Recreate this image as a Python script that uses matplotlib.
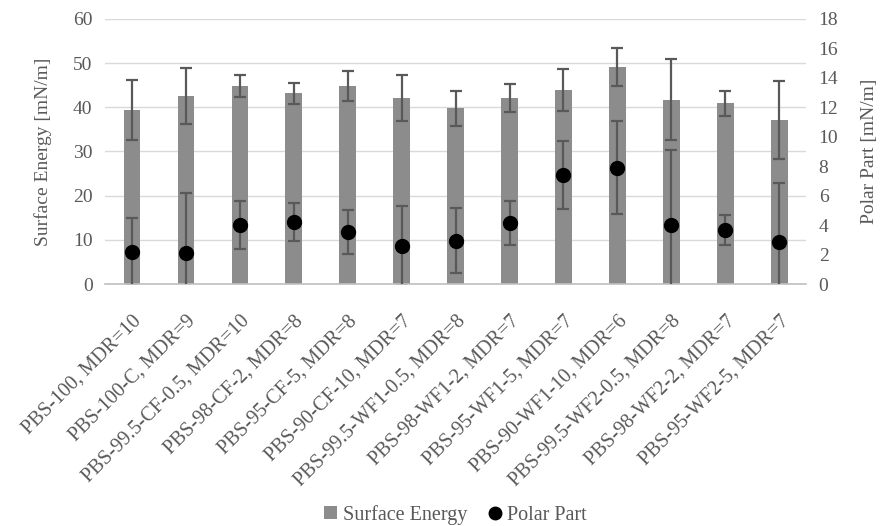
import matplotlib.pyplot as plt
import numpy as np

plt.rcParams["font.family"] = ["Liberation Serif", "DejaVu Serif"]

# Data
samples = ["PBS-100, MDR=10", "PBS-100-C, MDR=9", "PBS-99.5-CF-0.5, MDR=10",
           "PBS-98-CF-2, MDR=8", "PBS-95-CF-5, MDR=8", "PBS-90-CF-10, MDR=7",
           "PBS-99.5-WF1-0.5, MDR=8", "PBS-98-WF1-2, MDR=7", "PBS-95-WF1-5, MDR=7",
           "PBS-90-WF1-10, MDR=6", "PBS-99.5-WF2-0.5, MDR=8", "PBS-98-WF2-2, MDR=7",
           "PBS-95-WF2-5, MDR=7"]
surface_energy = [39.4, 42.6, 44.8, 43.2, 44.8, 42.1, 39.8, 42.1, 43.9, 49.1, 41.7, 40.9, 37.1]
surface_err = [6.8, 6.3, 2.4, 2.4, 3.4, 5.1, 4.0, 3.1, 4.7, 4.3, 9.2, 2.8, 8.8]
polar_part = [2.17, 2.08, 4.01, 4.21, 3.53, 2.58, 2.94, 4.12, 7.40, 7.90, 3.99, 3.67, 2.85]
polar_err = [2.3, 4.1, 1.6, 1.3, 1.5, 2.7, 2.2, 1.5, 2.3, 3.15, 5.1, 1.0, 4.0]

grey_text = "#595959"
err_col = "#595959"

fig, ax = plt.subplots(figsize=(8.83, 5.26), dpi=100)
fig.subplots_adjust(left=0.119, right=0.913, top=0.964, bottom=0.46)
x = np.arange(len(samples))

ax.bar(x, surface_energy, width=0.31, color="#8c8c8c", zorder=2, label="Surface Energy")
ax.errorbar(x, surface_energy, yerr=surface_err, fmt="none", ecolor=err_col,
            elinewidth=1.6, capsize=4, capthick=1.6, zorder=3)
ax.set_ylim(0, 60)
ax.set_yticks(range(0, 61, 10))
ax.set_xlim(-0.5, len(samples) - 0.5)
ax.grid(axis="y", color="#d9d9d9", linewidth=1, zorder=0)
ax.set_axisbelow(True)
ax.set_ylabel("Surface Energy [mN/m]", color=grey_text, fontsize=14, labelpad=15)

ax2 = ax.twinx()
ax2.errorbar(x, polar_part, yerr=polar_err, fmt="none", ecolor=err_col,
             elinewidth=1.6, capsize=4, capthick=1.6, zorder=3)
ax2.plot(x, polar_part, "o", color="black", markersize=10, zorder=4, label="Polar Part")
ax2.set_ylim(0, 18)
ax2.set_yticks(range(0, 19, 2))
ax2.set_ylabel("Polar Part [mN/m]", color=grey_text, fontsize=14, labelpad=16)

for a in (ax, ax2):
    for s in a.spines.values():
        s.set_visible(False)
    a.tick_params(axis="y", length=0, labelsize=14, labelcolor=grey_text, pad=9)
ax.spines["bottom"].set_visible(True)
ax.spines["bottom"].set_color("#bfbfbf")
ax.spines["bottom"].set_linewidth(1.2)

ax.set_xticks(x)
ax.set_xticklabels(samples, rotation=45, ha="right", rotation_mode="anchor",
                   fontsize=14.5, color=grey_text)
ax.tick_params(axis="x", length=0, pad=20)

h1, l1 = ax.get_legend_handles_labels()
h2, l2 = ax2.get_legend_handles_labels()
fig.legend(h1 + h2, l1 + l2, loc="center", bbox_to_anchor=(0.516, 0.021), ncol=2,
           frameon=False, fontsize=14.5, labelcolor=grey_text, handlelength=0.6,
           handleheight=0.6, handletextpad=0.3, columnspacing=1.1, markerscale=0.9)

fig.savefig("out.png", dpi=100)
